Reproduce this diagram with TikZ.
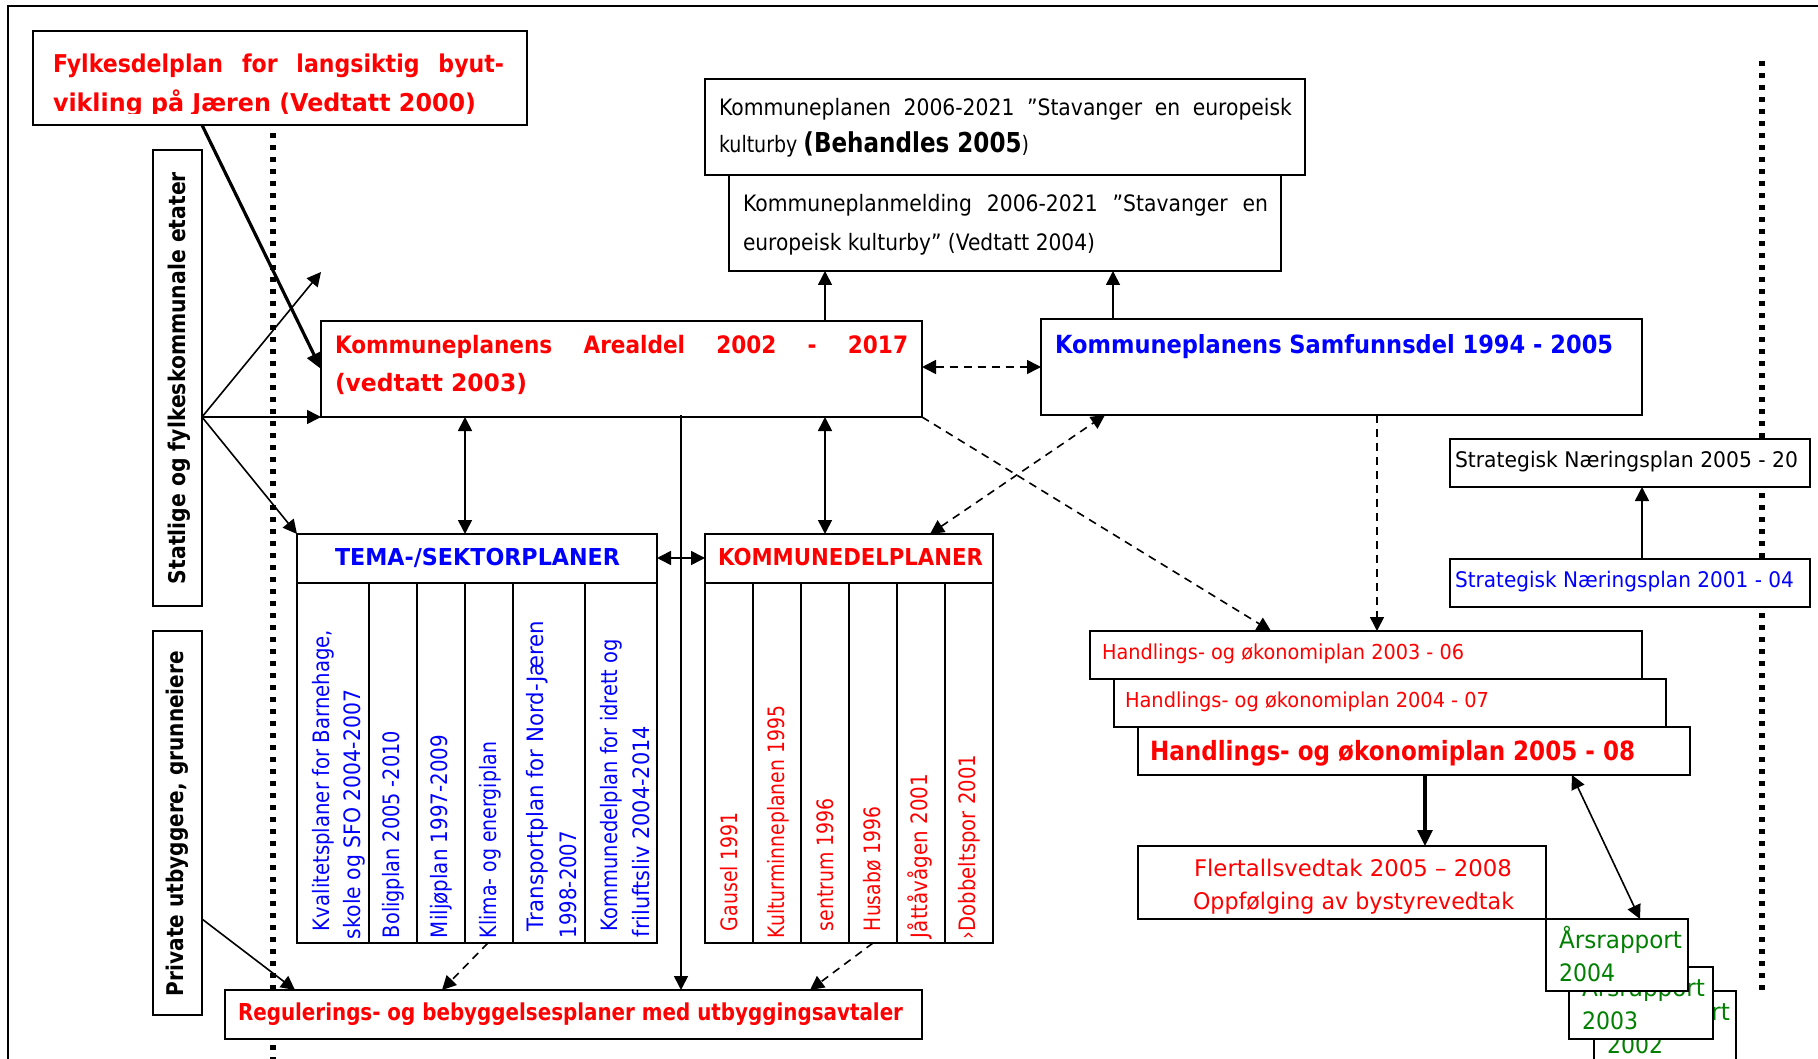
\documentclass[tikz,border=0pt]{standalone}
\usepackage{fontspec}
\setmainfont{DejaVu Sans}[FakeStretch=0.9]
\usetikzlibrary{arrows.meta,calc}
\definecolor{pred}{RGB}{255,0,0}
\definecolor{pblue}{RGB}{0,0,255}
\definecolor{pgreen}{RGB}{0,128,0}
\newsavebox\fitbox
% set #2 at exactly #1 pt wide, keeping its height
\newcommand\fitw[2]{\sbox\fitbox{#2}\resizebox{#1pt}{\ht\fitbox}{\usebox\fitbox}}
\newcommand\fsz[1]{\fontsize{#1pt}{#1pt}\selectfont}
\begin{document}
\begin{tikzpicture}[x=1pt,y=-1pt,
  >={Triangle[length=14pt,width=14pt]},
  box/.style={draw,line width=2pt,fill=white,inner sep=0pt,outer sep=0pt,anchor=north west},
  rule/.style={line width=2pt},
  txt/.style={inner sep=0pt,outer sep=0pt,anchor=base west},
  vtxt/.style={txt,rotate=90},
  conn/.style={line width=1.6pt},
  heavy/.style={line width=3.2pt,-{Triangle[length=16pt,width=15pt]}},
  dsh/.style={conn,dash pattern=on 8pt off 6pt},
  dots/.style={line width=5.5pt,dash pattern=on 5pt off 7pt},
  bigred/.style={font=\bfseries\fsz{24.5},text=pred},
  plain/.style={font=\fsz{22.6}},
  colblue/.style={vtxt,font=\fsz{22.6},text=pblue},
  colred/.style={vtxt,font=\fsz{22.6},text=pred},
  smallred/.style={font=\fsz{20.6},text=pred},
  arsr/.style={font=\fsz{24},text=pgreen}
]
\useasboundingbox (0,0) rectangle (1818,1059);
\clip (0,0) rectangle (1818,1059);

% outer frame and the two dotted boundaries
\draw[line width=2pt] (8,1100) -- (8,6) -- (1850,6);
\draw[dots] (273,133) -- (273,1070);
\draw[dots] (1762,61) -- (1762,992);

% county plan
\node[box,minimum width=494pt,minimum height=94pt] (fylkes) at (33,31) {};
\begin{scope}
  \clip (33,31) rectangle (527,114);
  \node[txt,bigred] (fy1) at (53,73) {\makebox[451pt][s]{Fylkesdelplan for langsiktig byut-}};
  \node[txt,bigred] (fy2) at (53,112) {\fitw{423}{vikling på Jæren (Vedtatt 2000)}};
\end{scope}

% municipal master plan documents
\node[box,minimum width=552pt,minimum height=96pt] (kpmeld) at (729,175) {};
\node[txt,plain] (km1) at (743,212) {\makebox[525pt][s]{Kommuneplanmelding 2006-2021 "Stavanger en}};
\node[txt,plain] (km2) at (743,251) {\fitw{352}{europeisk kulturby" (Vedtatt 2004)}};
\node[box,minimum width=600pt,minimum height=96pt] (kp2006) at (705,79) {};
\node[txt,plain] (kp1) at (719,116) {\makebox[573pt][s]{Kommuneplanen 2006-2021 ”Stavanger en europeisk}};
\node[txt,plain] (kp2) at (719,153) {\fitw{310}{kulturby {\bfseries\fsz{27.4}(Behandles 2005})}};

% land use part and social part
\node[box,minimum width=601pt,minimum height=96pt] (areal) at (321,321) {};
\node[txt,font=\bfseries\fsz{24},text=pred] (ar1) at (335,353) {\makebox[573pt][s]{Kommuneplanens Arealdel 2002 - 2017}};
\node[txt,font=\bfseries\fsz{24},text=pred] (ar2) at (335,391) {\fitw{192}{(vedtatt 2003)}};
\node[box,minimum width=601pt,minimum height=96pt] (samf) at (1041,319) {};
\node[txt,font=\bfseries\fsz{25},text=pblue] (sa1) at (1055,353) {\fitw{558}{Kommuneplanens Samfunnsdel 1994 - 2005}};

% actors on the left
\node[box,minimum width=49pt,minimum height=456pt] (statlige) at (153,150) {};
\node[vtxt,font=\bfseries\fsz{23}] (stt) at (185,584) {\fitw{412}{Statlige og fylkeskommunale etater}};
\node[box,minimum width=49pt,minimum height=384pt] (private) at (153,631) {};
\node[vtxt,font=\bfseries\fsz{23}] (prt) at (183,996) {\fitw{345}{Private utbyggere,  grunneiere}};

% theme / sector plans
\node[box,minimum width=360pt,minimum height=409pt] (tema) at (297,534) {};
\draw[rule] ($(tema.north west)+(0,49)$) -- ($(tema.north east)+(0,49)$);
\foreach \dx in {72,120,168,216,288}
  \draw[rule] ($(tema.north west)+(\dx,49)$) -- ($(tema.south west)+(\dx,0)$);
\node[txt,font=\bfseries\fsz{23.3},text=pblue] (temah) at (335,565) {\fitw{285}{TEMA-/SEKTORPLANER}};
\node[colblue] (t1a) at (329,931) {\fitw{301}{Kvalitetsplaner for Barnehage,}};
\node[colblue] (t1b) at (360,939) {\fitw{249}{skole og SFO 2004-2007}};
\node[colblue] (t2) at (399,938) {\fitw{207}{Boligplan 2005 -2010}};
\node[colblue] (t3) at (447,938) {\fitw{203}{Miljøplan 1997-2009}};
\node[colblue] (t4) at (496,938) {\fitw{196}{Klima- og energiplan}};
\node[colblue] (t5a) at (543,931) {\fitw{310}{Transportplan for Nord-Jæren}};
\node[colblue] (t5b) at (576,938) {\fitw{107}{1998-2007}};
\node[colblue] (t6a) at (617,931) {\fitw{292}{Kommunedelplan for idrett og}};
\node[colblue] (t6b) at (649,937) {\fitw{211}{friluftsliv 2004-2014}};

% sub-area plans
\node[box,minimum width=288pt,minimum height=409pt] (kdp) at (705,534) {};
\draw[rule] ($(kdp.north west)+(0,49)$) -- ($(kdp.north east)+(0,49)$);
\foreach \dx in {48,96,144,192,240}
  \draw[rule] ($(kdp.north west)+(\dx,49)$) -- ($(kdp.south west)+(\dx,0)$);
\node[txt,font=\bfseries\fsz{23.3},text=pred] (kdph) at (718,565) {\fitw{265}{KOMMUNEDELPLANER}};
\node[colred] (k1) at (737,931) {\fitw{119}{Gausel  1991}};
\node[colred] (k2) at (784,938) {\fitw{232}{Kulturminneplanen 1995}};
\node[colred] (k3) at (833,931) {\fitw{133}{sentrum 1996}};
\node[colred] (k4) at (880,931) {\fitw{124}{Husabø 1996}};
\node[colred] (k5) at (927,938) {\fitw{164}{Jåttåvågen 2001}};
\node[colred] (k6) at (975,939) {\fitw{184}{›Dobbeltspor 2001}};

% zoning plans
\node[box,minimum width=697pt,minimum height=49pt] (reguler) at (225,990) {};
\node[txt,font=\bfseries\fsz{23.3},text=pred] (ret) at (238,1020) {\fitw{665}{Regulerings-  og bebyggelsesplaner med utbyggingsavtaler}};

% business plans
\node[box,minimum width=360pt,minimum height=48pt] (strat05) at (1450,439) {};
\node[txt,font=\fsz{21.5}] (s05) at (1455,467) {\fitw{343}{Strategisk Næringsplan 2005 - 20}};
\node[box,minimum width=360pt,minimum height=48pt] (strat01) at (1450,559) {};
\node[txt,font=\fsz{21.5},text=pblue] (s01) at (1455,587) {\fitw{339}{Strategisk Næringsplan 2001 - 04}};

% action and economy plans
\node[box,minimum width=552pt,minimum height=48pt] (hand03) at (1090,631) {};
\node[txt,smallred] (h03) at (1102,659) {\fitw{362}{Handlings- og økonomiplan 2003 - 06}};
\node[box,minimum width=552pt,minimum height=48pt] (hand04) at (1114,679) {};
\node[txt,smallred] (h04) at (1125,707) {\fitw{364}{Handlings- og økonomiplan 2004 - 07}};
\node[box,minimum width=552pt,minimum height=48pt] (hand05) at (1138,727) {};
\node[txt,font=\bfseries\fsz{26.5},text=pred] (h05) at (1150,760) {\fitw{485}{Handlings-  og økonomiplan 2005  -  08}};

\node[box,minimum width=408pt,minimum height=73pt] (flert) at (1138,846) {};
\node[txt,font=\fsz{22.9},text=pred] (fl1) at (1194,876) {\fitw{318}{Flertallsvedtak 2005 – 2008}};
\node[txt,font=\fsz{22.9},text=pred] (fl2) at (1193,909) {\fitw{321}{Oppfølging av bystyrevedtak}};

% annual reports, stacked
\node[box,minimum width=142pt,minimum height=72pt] (ars02) at (1594,991) {};
\node[txt,arsr] (a2a) at (1607,1020) {\fitw{123}{Årsrapport}};
\node[txt,arsr] (a2b) at (1607,1053) {\fitw{56}{2002}};
\node[box,minimum width=144pt,minimum height=72pt] (ars03) at (1569,967) {};
\node[txt,arsr] (a3a) at (1582,996) {\fitw{123}{Årsrapport}};
\node[txt,arsr] (a3b) at (1582,1029) {\fitw{56}{2003}};
\node[box,minimum width=142pt,minimum height=72pt] (ars04) at (1546,919) {};
\node[txt,arsr] (a4a) at (1559,948) {\fitw{123}{Årsrapport}};
\node[txt,arsr] (a4b) at (1559,981) {\fitw{56}{2004}};

% connectors
\coordinate (st) at (statlige.east |- areal.south);
\coordinate (free) at (321,272);
\draw[heavy] (fylkes.south west -| statlige.east) -- (areal.west);
\draw[conn,->] (st) -- (free);
\draw[conn,->] (st) -- (areal.south west);
\draw[conn,->] (st) -- (tema.north west);
\draw[conn,<->] ($(areal.south west)+(144,0)$) -- ($(tema.north west)+(168,0)$);
\draw[conn,<->] ($(areal.south west)+(504,0)$) -- ($(kdp.north west)+(120,0)$);
\draw[conn,->] ($(areal.north west)+(504,0)$) -- ($(kpmeld.south west)+(96,0)$);
\draw[conn,->] ($(samf.north west)+(72,0)$) -- ($(kpmeld.south west)+(384,0)$);
\draw[dsh,<->] ($(areal.north east)+(0,46)$) -- ($(samf.north west)+(0,48)$);
\draw[conn,<->] ($(tema.north east)+(0,24)$) -- ($(kdp.north west)+(0,24)$);
\draw[conn,->] ($(areal.south west)+(360,-2)$) -- ($(reguler.north west)+(456,0)$);
\draw[dsh,<->] ($(kdp.north west)+(225,0)$) -- ($(samf.south west)+(64,0)$);
\draw[dsh,->] (areal.south east) -- ($(hand03.north west)+(181,0)$);
\draw[dsh,->] ($(samf.south west)+(336,0)$) -- ($(hand03.north west)+(287,0)$);
\draw[conn,->] ($(strat01.north west)+(192,0)$) -- ($(strat05.south west)+(192,0)$);
\draw[heavy] ($(hand05.south west)+(287,0)$) -- ($(flert.north west)+(287,0)$);
\draw[conn,<->] ($(hand05.south west)+(434,0)$) -- ($(ars04.north west)+(94,0)$);
\draw[conn,->] ($(private.north east)+(0,288)$) -- ($(reguler.north west)+(70,0)$);
\draw[dsh,->] ($(tema.south west)+(191,0)$) -- ($(reguler.north west)+(217,0)$);
\draw[dsh,->] ($(kdp.south west)+(168,0)$) -- ($(reguler.north west)+(585,0)$);
\end{tikzpicture}
\end{document}
